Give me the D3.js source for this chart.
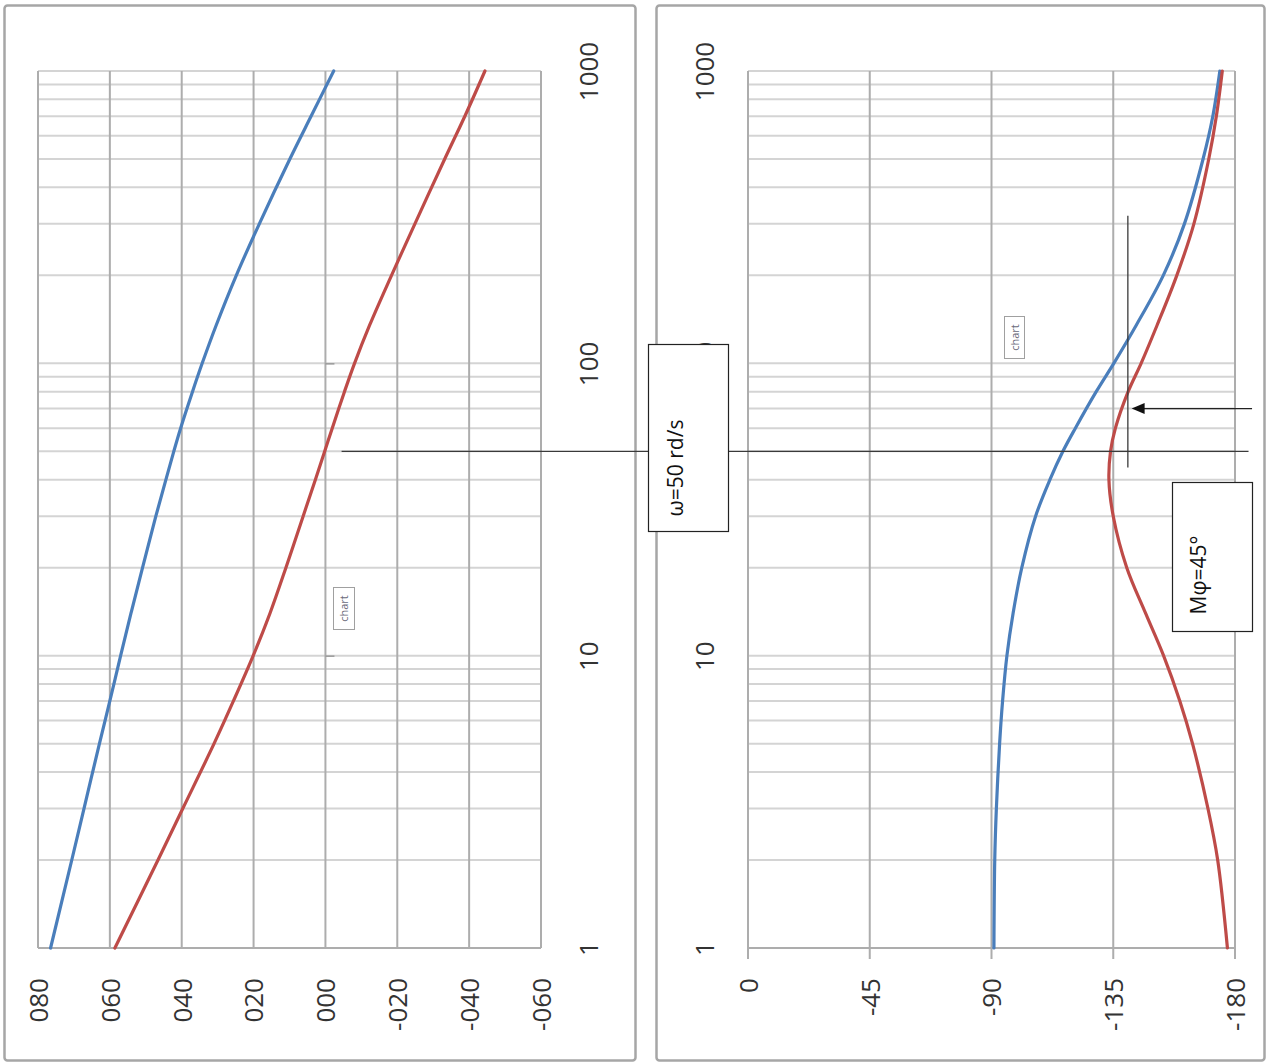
<!DOCTYPE html>
<html>
<head>
<meta charset="utf-8">
<script src="https://cdn.jsdelivr.net/npm/d3@7"></script>
<style>
  body { margin: 0; background: #fff; }
  text { font-family: "Open Sans", "Noto Sans", sans-serif; }
</style>
</head>
<body>
<div id="chart"></div>
<script>
const freqs = [1, 2, 3, 5, 7, 10, 14, 20, 30, 40, 50, 60, 80, 100, 135, 200, 300, 500, 700, 1000];

// gain (dB)
const gainBlue = [76.5, 70.6, 67.2, 62.9, 60.0, 57.0, 54.1, 50.9, 47.2, 44.4, 42.2, 40.3, 37.0, 34.3, 30.4, 24.8, 18.4, 9.9, 4.0, -2.3];
const gainRed = [58.6, 46.6, 39.7, 31.0, 25.6, 20.1, 15.4, 11.0, 6.2, 2.8, 0.2, -1.9, -5.3, -8.1, -12.3, -18.4, -24.9, -33.2, -38.8, -44.4];

// phase (degrees)
const phaseBlue = [-90.9, -91.2, -91.8, -93.0, -94.1, -95.7, -98.0, -101.2, -106.3, -111.6, -116.4, -121.0, -128.7, -135.2, -143.5, -153.5, -161.3, -168.2, -171.8, -174.4];
const phaseRed = [-177.2, -173.6, -170.0, -164.3, -159.6, -153.6, -146.9, -140.0, -135.0, -133.4, -134.0, -135.8, -140.5, -145.3, -151.2, -158.5, -164.8, -170.3, -173.1, -175.3];

// axis ticks
const gainTicks = [80, 60, 40, 20, 0, -20, -40, -60];
const phaseTicks = [0, -45, -90, -135, -180];
const freqTicks = [1, 10, 100, 1000];

const width = 1267;
const height = 1064;
const blue = "#4a7ebb";
const red = "#be4b48";

const svg = d3.select("#chart").append("svg")
    .attr("width", width)
    .attr("height", height);

// outer frames of the two charts
svg.append("rect")
    .attr("x", 4.5).attr("y", 5.5).attr("width", 631).attr("height", 1055).attr("rx", 3)
    .attr("fill", "#fff").attr("stroke", "#a6a6a6").attr("stroke-width", 2.5);
svg.append("rect")
    .attr("x", 656.5).attr("y", 5.5).attr("width", 608).attr("height", 1055).attr("rx", 3)
    .attr("fill", "#fff").attr("stroke", "#a6a6a6").attr("stroke-width", 2.5);

// frequency scale, shared (runs bottom to top)
const y = d3.scaleLog().domain([1, 1000]).range([948, 71]);

function panel(opts) {
    const g = svg.append("g");
    const x = d3.scaleLinear().domain(opts.domain).range(opts.range);

    // horizontal grid (log minor lines)
    g.append("g").selectAll("line")
        .data(y.ticks())
        .join("line")
        .attr("x1", opts.range[0]).attr("x2", opts.range[1])
        .attr("y1", d => y(d)).attr("y2", d => y(d))
        .attr("stroke", "#d4d4d4").attr("stroke-width", 2);

    // vertical grid
    g.append("g").selectAll("line")
        .data(opts.ticks)
        .join("line")
        .attr("x1", d => x(d)).attr("x2", d => x(d))
        .attr("y1", y(1000)).attr("y2", y(1) + opts.tickOut)
        .attr("stroke", "#adadad").attr("stroke-width", 2);

    // bottom edge
    g.append("line")
        .attr("x1", opts.range[0]).attr("x2", opts.range[1])
        .attr("y1", y(1)).attr("y2", y(1))
        .attr("stroke", "#adadad").attr("stroke-width", 2);

    // value axis labels (rotated)
    const ax = g.append("g")
        .attr("transform", `translate(0,978)`)
        .call(d3.axisBottom(x).tickValues(opts.ticks).tickFormat(opts.fmt).tickSize(0));
    ax.select(".domain").remove();
    ax.selectAll("text")
        .attr("x", 0).attr("y", 0).attr("dy", "0.36em")
        .attr("transform", "rotate(-90)")
        .attr("text-anchor", "end")
        .attr("font-size", 26)
        .attr("fill", "#333");

    // frequency labels (rotated)
    const fx = g.append("g")
        .attr("transform", `translate(${opts.freqX},0)`)
        .call(d3.axisRight(y).tickValues(freqTicks).tickFormat(d => String(d)).tickSize(0));
    fx.select(".domain").remove();
    fx.selectAll("text")
        .attr("x", 0).attr("y", 0).attr("dy", 0)
        .attr("transform", "rotate(-90)")
        .attr("text-anchor", "middle")
        .attr("font-size", 26)
        .attr("fill", "#333");

    // curves
    opts.series.forEach(s => {
        const line = d3.line()
            .x((d, i) => x(s.values[i]))
            .y(d => y(d))
            .curve(d3.curveCatmullRom);
        g.append("path")
            .attr("d", line(freqs))
            .attr("fill", "none")
            .attr("stroke", s.color)
            .attr("stroke-width", 3.2)
            .attr("stroke-linecap", "round");
    });

    return x;
}

// plain hyphen for negatives, zero padded gain labels
function fmtGain(d) {
    return (d < 0 ? "-" : "") + String(Math.abs(d)).padStart(3, "0");
}
function fmtPhase(d) {
    return (d < 0 ? "-" : "") + Math.abs(d);
}

const xGain = panel({
    domain: [80, -60], range: [38, 541], ticks: gainTicks, fmt: fmtGain,
    tickOut: 0, freqX: 598,
    series: [{ values: gainBlue, color: blue }, { values: gainRed, color: red }]
});

const xPhase = panel({
    domain: [0, -180], range: [748, 1235], ticks: phaseTicks, fmt: fmtPhase,
    tickOut: 11, freqX: 714,
    series: [{ values: phaseBlue, color: blue }, { values: phaseRed, color: red }]
});

// small ticks on the 0 dB axis
const zt = svg.append("g")
    .attr("transform", `translate(${xGain(0)},0)`)
    .call(d3.axisRight(y).tickValues([10, 100]).tickSize(9).tickFormat(""));
zt.select(".domain").remove();
zt.selectAll("line").attr("stroke", "#9a9a9a").attr("stroke-width", 1.5);

// stray "chart" labels
function tag(cx, cy, w, h, tx) {
    svg.append("rect")
        .attr("x", cx).attr("y", cy).attr("width", w).attr("height", h)
        .attr("fill", "#fff").attr("stroke", "#a0a0a0").attr("stroke-width", 1);
    svg.append("text")
        .attr("transform", `translate(${tx},${cy + h / 2}) rotate(-90)`)
        .attr("text-anchor", "middle")
        .attr("font-size", 11)
        .attr("fill", "#6a6a7a")
        .text("chart");
}
tag(333.5, 587.5, 21, 42, 348);
tag(1004.5, 316.5, 20, 42, 1019);

// crossover frequency line through both charts
const omegaC = 50;
svg.append("line")
    .attr("x1", xGain(-4.5)).attr("x2", xPhase(-185))
    .attr("y1", y(omegaC)).attr("y2", y(omegaC))
    .attr("stroke", "#3a3a3a").attr("stroke-width", 1.3);

// phase margin marker
svg.append("line")
    .attr("x1", xPhase(-140.4)).attr("x2", xPhase(-140.4))
    .attr("y1", y(320)).attr("y2", y(44))
    .attr("stroke", "#3a3a3a").attr("stroke-width", 1.3);

const ay = y(70);
const tip = xPhase(-141.8);
svg.append("line")
    .attr("x1", xPhase(-186.3)).attr("x2", tip + 10)
    .attr("y1", ay).attr("y2", ay)
    .attr("stroke", "#222").attr("stroke-width", 1.3);
svg.append("path")
    .attr("d", `M${tip},${ay} L${tip + 13},${ay - 5.5} L${tip + 13},${ay + 5.5} Z`)
    .attr("fill", "#111");

// annotation boxes
function note(bx, by, bw, bh, tx, ty, label) {
    svg.append("rect")
        .attr("x", bx).attr("y", by).attr("width", bw).attr("height", bh)
        .attr("fill", "#fff").attr("stroke", "#222").attr("stroke-width", 1.2);
    svg.append("text")
        .attr("transform", `translate(${tx},${ty}) rotate(-90)`)
        .attr("text-anchor", "middle")
        .attr("font-size", 21)
        .attr("fill", "#111")
        .text(label);
}
note(648.5, 344.5, 80, 187, 683, 468, "ω=50 rd/s");
note(1172.5, 482.5, 80, 149, 1206, 575, "Mφ=45°");
</script>
</body>
</html>
